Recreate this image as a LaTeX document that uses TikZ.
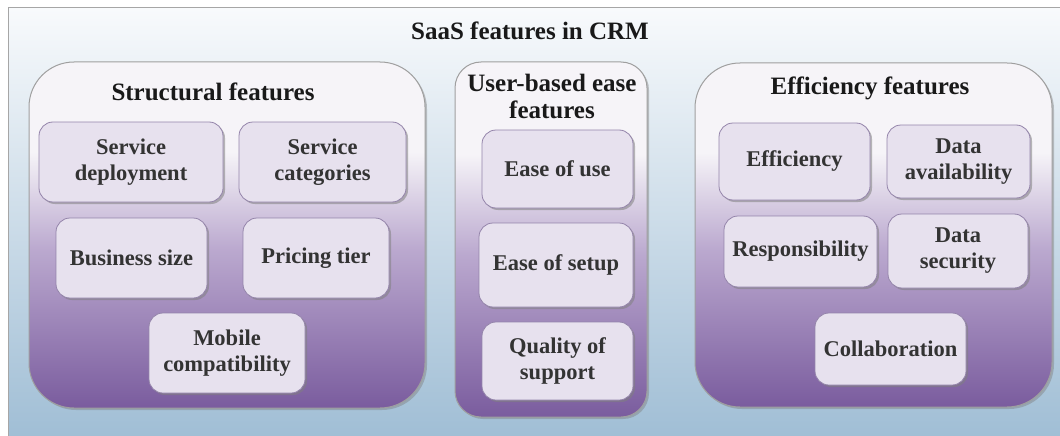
\documentclass[tikz,border=0pt]{standalone}
\usepackage{fontspec}
\setmainfont{Liberation Serif}
\usetikzlibrary{shadows}
\definecolor{bgtop}{HTML}{F8FAFC}
\definecolor{bgbot}{HTML}{A0BED5}
\definecolor{cTop}{HTML}{F6F4F8}
\definecolor{cMid}{HTML}{BBA9CF}
\definecolor{cBot}{HTML}{7A5C9E}
\definecolor{boxfill}{HTML}{E7E1EE}
\definecolor{boxedge}{HTML}{9484AA}
\definecolor{txt}{HTML}{333333}
\pgfdeclareverticalshading{contshade}{100bp}{color(0bp)=(cBot); color(25bp)=(cBot); color(48bp)=(cMid); color(62bp)=(cTop); color(100bp)=(cTop)}
\tikzset{
  container/.style={draw=gray!75, line width=1pt, shading=contshade,
    drop shadow={opacity=0.45, shadow xshift=2pt, shadow yshift=-2pt}},
  itembox/.style={draw=boxedge, line width=0.8pt, fill=boxfill, rounded corners=14pt,
    align=center, text=txt, font=\bfseries\fontsize{22.5}{26}\selectfont, inner sep=0pt,
    drop shadow={opacity=0.55, shadow xshift=2pt, shadow yshift=-2pt}},
  grouptitle/.style={align=center, text=black!90, font=\bfseries\fontsize{25}{27}\selectfont, inner sep=0pt},
}
\begin{document}
\begin{tikzpicture}[x=1pt,y=-1pt]
\useasboundingbox (0,0) rectangle (1060,436);
% background frame
\shade[top color=bgtop, bottom color=bgbot] (8,8) rectangle (1062,438);
\draw[gray!70, line width=1pt] (8,438) -- (8,8) -- (1062,8);
\node[grouptitle] (main) at (530,31) {SaaS features in CRM};

% containers
\node[container, rounded corners=45pt, minimum width=396pt, minimum height=346pt, inner sep=0pt] (left) at (227,235) {};
\node[container, rounded corners=26pt, minimum width=192pt, minimum height=355pt, inner sep=0pt] (mid) at (551,239.5) {};
\node[container, rounded corners=45pt, minimum width=357pt, minimum height=344pt, inner sep=0pt] (right) at (873.5,235) {};

% titles
\node[grouptitle] (lt) at (213,92) {Structural features};
\node[grouptitle] (mt) at (552,96) {User-based ease\\features};
\node[grouptitle] (rt) at (870,88) {Efficiency features};

% left boxes
\node[itembox, minimum width=184pt, minimum height=80pt] (sd) at (131,162) {Service\\deployment};
\node[itembox, minimum width=167pt, minimum height=80pt] (sc) at (322.5,162) {Service\\categories};
\node[itembox, minimum width=151pt, minimum height=80pt] (bs) at (131.5,258) {Business size};
\node[itembox, minimum width=146pt, minimum height=80pt] (pt) at (316,258) {Pricing tier};
\node[itembox, minimum width=156pt, minimum height=80pt] (mc) at (227,353) {Mobile\\compatibility};

% middle boxes
\node[itembox, minimum width=151pt, minimum height=78pt] (eu) at (557.5,169) {Ease of use};
\node[itembox, minimum width=154pt, minimum height=84pt] (es) at (556,265) {Ease of setup};
\node[itembox, minimum width=151pt, minimum height=78pt] (qs) at (557.5,361) {Quality of\\support};

% right boxes
\node[itembox, minimum width=151pt, minimum height=77pt] (ef) at (794.5,161.5) {Efficiency};
\node[itembox, minimum width=143pt, minimum height=73pt] (da) at (958.5,161.5) {Data\\availability};
\node[itembox, minimum width=153pt, minimum height=71pt] (rs) at (800.5,251.5) {Responsibility};
\node[itembox, minimum width=140pt, minimum height=74pt] (ds) at (958,251) {Data\\security};
\node[itembox, minimum width=151pt, minimum height=72pt] (co) at (890.5,349) {Collaboration};
\end{tikzpicture}
\end{document}
